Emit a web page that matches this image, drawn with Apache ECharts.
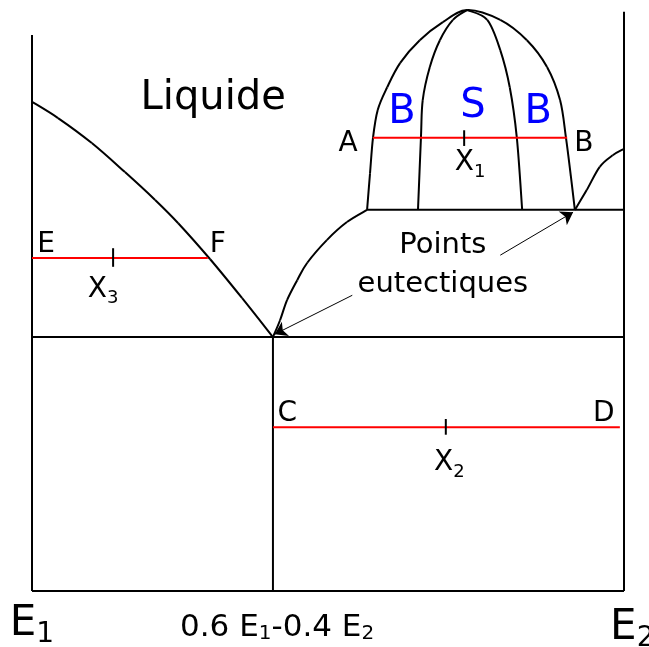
<!DOCTYPE html>
<html>
<head>
<meta charset="utf-8">
<script src="https://cdn.jsdelivr.net/npm/echarts@6/dist/echarts.min.js"></script>
<style>
  html, body { margin: 0; padding: 0; background: #fff; }
  #chart { width: 649px; height: 647px; }
</style>
</head>
<body>
<div id="chart"></div>
<script>
// composition x : 0 = pure E1, 1 = pure E2 ; T = temperature (arbitrary units)
var liquidusLeft = [[0, 84.2], [0.044, 81.4], [0.101, 77.1], [0.157, 72.1], [0.208, 67.3], [0.247, 63.3],
                    [0.301, 57.1], [0.355, 50.4], [0.407, 43.7]];
var liquidusRight = [[0.407, 43.7], [0.419, 46.6], [0.431, 50.1], [0.448, 53.5], [0.465, 56.5],
                     [0.498, 60.4], [0.532, 63.5], [0.566, 65.6]];
var domeOuter = [[0.566, 65.6], [0.571, 71.9], [0.576, 78.0], [0.584, 82.8], [0.600, 86.7], [0.622, 90.9],
                 [0.655, 94.8], [0.694, 97.9], [0.735, 100], [0.791, 98.3], [0.836, 94.8], [0.870, 90.2],
                 [0.892, 84.5], [0.902, 78.0], [0.910, 71.6], [0.917, 65.6]];
var domeInnerLeft = [[0.652, 65.6], [0.657, 78.0], [0.660, 84.5], [0.672, 90.2], [0.689, 94.8],
                     [0.711, 98.3], [0.735, 100]];
var domeInnerRight = [[0.828, 65.6], [0.819, 78.0], [0.807, 86.7], [0.791, 93.1], [0.769, 98.3], [0.735, 100]];
var liquidusE2 = [[0.917, 65.6], [0.937, 69.0], [0.959, 73.0], [0.981, 75.0], [1, 76.1]];

// straight lines
var eutecticLow = [[0, 43.7], [1, 43.7]];
var eutecticHigh = [[0.566, 65.6], [1, 65.6]];
var compoundLine = [[0.407, 0], [0.407, 43.7]];
var frameLeft = [[0, 0], [0, 95.7]];
var frameRight = [[1, 0], [1, 99.7]];
var frameBottom = [[0, 0], [1, 0]];

// tie lines (red) and composition ticks
var tieEF = [[0, 57.3], [0.297, 57.3]];
var tieAB = [[0.576, 78.0], [0.904, 78.0]];
var tieCD = [[0.407, 28.2], [0.993, 28.2]];
var tickX1 = [[0.730, 76.6], [0.730, 79.3]];
var tickX2 = [[0.699, 26.9], [0.699, 29.6]];
var tickX3 = [[0.137, 55.8], [0.137, 59.0]];

// arrows to the eutectic points
var arrowLow = [[0.541, 50.9], [0.410, 44.2]];
var arrowHigh = [[0.791, 57.8], [0.914, 65.2]];

// labels: [x, T, text]
var labelsBig = [[0.306, 84.7, 'Liquide']];
var labelsBlue = [[0.625, 82.3, 'B'], [0.745, 83.3, 'S'], [0.855, 82.3, 'B']];
var labelsPoint = [[0.534, 77.0, 'A'], [0.932, 77.0, 'B'], [0.024, 59.6, 'E'], [0.314, 59.6, 'F'],
                   [0.431, 30.5, 'C'], [0.966, 30.5, 'D']];
var labelsX = [[0.740, 73.3, '{m|X}{s|1}'], [0.120, 51.5, '{m|X}{s|3}'], [0.705, 21.7, '{m|X}{s|2}']];
var labelsNote = [[0.694, 59.4, 'Points'], [0.694, 52.8, 'eutectiques']];
var labelsAxisEnds = [[0.0, -6.0, '{m|E}{s|1}'], [1.014, -6.7, '{m|E}{s|2}']];
var labelsAxisMid = [[0.414, -6.4, '{m|0.6 E}{s|1}{m|-0.4 E}{s|2}']];

var FONT = 'DejaVu Sans';

function line(data, color) {
  return {
    type: 'line', data: data, symbol: 'none', clip: false, silent: true,
    lineStyle: { color: color || '#000', width: 2 }, z: 2
  };
}

// smooth curve through the read points (Catmull-Rom drawn as bezier segments)
function spline(points) {
  return {
    type: 'custom', data: points, clip: false, silent: true, z: 2,
    renderItem: function (params, api) {
      if (params.dataIndex !== 0) return;
      var p = points.map(function (d) { return api.coord(d); });
      var n = p.length, children = [];
      for (var i = 0; i < n - 1; i++) {
        var p0 = p[Math.max(i - 1, 0)], p1 = p[i], p2 = p[i + 1], p3 = p[Math.min(i + 2, n - 1)];
        children.push({
          type: 'bezierCurve',
          shape: {
            x1: p1[0], y1: p1[1], x2: p2[0], y2: p2[1],
            cpx1: p1[0] + (p2[0] - p0[0]) / 6, cpy1: p1[1] + (p2[1] - p0[1]) / 6,
            cpx2: p2[0] - (p3[0] - p1[0]) / 6, cpy2: p2[1] - (p3[1] - p1[1]) / 6
          },
          style: { stroke: '#000', lineWidth: 2, fill: null }
        });
      }
      return { type: 'group', children: children };
    }
  };
}

function textSeries(data, style, rich) {
  return {
    type: 'scatter', data: data, symbolSize: 0, clip: false, silent: true, z: 5,
    itemStyle: { color: '#000', opacity: 1 },
    label: Object.assign({
      show: true, position: 'inside', fontFamily: FONT, color: '#000', opacity: 1,
      textBorderWidth: 0, textBorderColor: 'transparent',
      formatter: function (p) { return p.value[2]; },
      rich: rich
    }, style)
  };
}

function subRich(main, sub, drop) {
  return {
    m: { fontFamily: FONT, fontSize: main, color: '#000', verticalAlign: 'top', textBorderWidth: 0 },
    s: { fontFamily: FONT, fontSize: sub, color: '#000', verticalAlign: 'top', textBorderWidth: 0,
         padding: [drop, 0, 0, 0] }
  };
}

var chart = echarts.init(document.getElementById('chart'));
chart.setOption({
  animation: false,
  backgroundColor: '#fff',
  grid: { left: 32, right: 25, top: 10, bottom: 56 },
  xAxis: { type: 'value', min: 0, max: 1, show: false },
  yAxis: { type: 'value', min: 0, max: 100, show: false },
  series: [
    spline(liquidusLeft),
    spline(liquidusRight),
    spline(domeOuter),
    spline(domeInnerLeft),
    spline(domeInnerRight),
    spline(liquidusE2),
    line(eutecticLow),
    line(eutecticHigh),
    line(compoundLine),
    line(frameLeft),
    line(frameRight),
    line(frameBottom),
    line(tieEF, '#ff0000'),
    line(tieAB, '#ff0000'),
    line(tieCD, '#ff0000'),
    line(tickX1),
    line(tickX2),
    line(tickX3),
    {
      type: 'lines', coordinateSystem: 'cartesian2d', silent: true, z: 3,
      symbol: ['none', 'arrow'], symbolSize: [0, 12],
      lineStyle: { color: '#000', width: 1, opacity: 1 },
      data: [{ coords: arrowLow }, { coords: arrowHigh }]
    },
    textSeries(labelsBig, { fontSize: 40 }),
    textSeries(labelsBlue, { fontSize: 40, color: '#0000ff' }),
    textSeries(labelsPoint, { fontSize: 28 }),
    textSeries(labelsX, {}, subRich(28, 18, 14)),
    textSeries(labelsNote, { fontSize: 29 }),
    textSeries(labelsAxisEnds, {}, subRich(42, 28, 18)),
    textSeries(labelsAxisMid, {}, subRich(31, 20, 12))
  ]
});
</script>
</body>
</html>
